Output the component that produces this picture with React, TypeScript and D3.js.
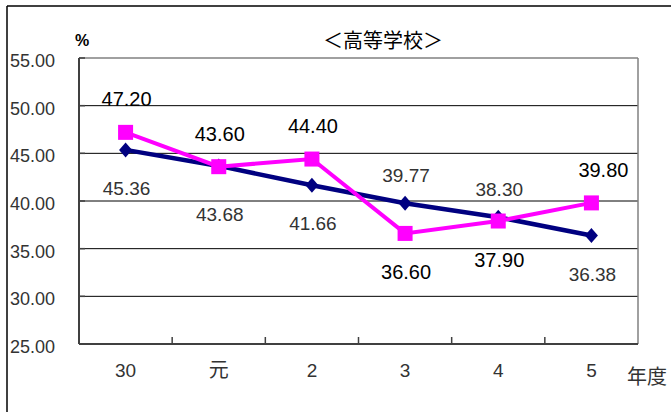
import * as d3 from "d3";

const categories = ["30", "元", "2", "3", "4", "5"];
const navyValues = [45.36, 43.68, 41.66, 39.77, 38.3, 36.38];
const pinkValues = [47.2, 43.6, 44.4, 36.6, 37.9, 39.8];
// label placement: true = above the point
const navyAbove = [false, false, false, true, true, false];
const pinkAbove = [true, true, true, false, false, true];
const yTicks = [25, 30, 35, 40, 45, 50, 55];

const W = 671;
const H = 412;
const left = 79;
const right = 638;
const top = 58;
const bottom = 344;
const font = "'Liberation Sans', Arial, sans-serif";
const jpFont = "'Noto Sans CJK JP', sans-serif";

export default function App() {
  const x = d3.scaleBand<string>().domain(categories).range([left, right]).padding(0);
  const cx = (c: string) => (x(c) ?? 0) + x.bandwidth() / 2;
  const y = d3.scaleLinear().domain([25, 55]).range([bottom, top]);

  const line = d3
    .line<number>()
    .x((_, i) => cx(categories[i]))
    .y((d) => y(d));

  return (
    <svg
      width={W}
      height={H}
      style={{ position: "absolute", left: 0, top: 0, background: "#fff" }}
    >
      {/* outer frame */}
      <line x1={7} y1={6} x2={W} y2={6} stroke="#000" strokeWidth={1.5} />
      <line x1={7} y1={6} x2={7} y2={H} stroke="#000" strokeWidth={1.5} />

      {/* title */}
      <text x={383} y={48} textAnchor="middle" fontFamily={jpFont} fontSize={20} fill="#000">
        ＜高等学校＞
      </text>
      <text x={82} y={46} textAnchor="middle" fontFamily={font} fontSize={16} fontWeight="bold" fill="#000">
        %
      </text>

      {/* gridlines */}
      {yTicks.slice(1, -1).map((t) => (
        <line key={t} x1={left} x2={right} y1={y(t)} y2={y(t)} stroke="#000" strokeWidth={1} />
      ))}
      {/* plot border top/right */}
      <line x1={left} x2={right} y1={top} y2={top} stroke="#808080" strokeWidth={1.5} />
      <line x1={right} x2={right} y1={top} y2={bottom} stroke="#808080" strokeWidth={1.5} />
      {/* axes */}
      <line x1={left} x2={left} y1={top} y2={bottom} stroke="#404040" strokeWidth={2} />
      <line x1={left} x2={right} y1={bottom} y2={bottom} stroke="#404040" strokeWidth={2} />
      {yTicks.map((t) => (
        <line key={t} x1={left} x2={left + 6} y1={y(t)} y2={y(t)} stroke="#404040" strokeWidth={1.5} />
      ))}
      {categories.slice(1).map((c) => (
        <line key={c} x1={x(c)} x2={x(c)} y1={bottom} y2={bottom - 7} stroke="#404040" strokeWidth={1.5} />
      ))}

      {/* y tick labels */}
      {yTicks.map((t) => (
        <text
          key={t}
          x={55}
          y={y(t) + 9}
          textAnchor="end"
          fontFamily={font}
          fontSize={18}
          fill="#333"
        >
          {t.toFixed(2)}
        </text>
      ))}

      {/* x labels */}
      {categories.map((c) => (
        <text
          key={c}
          x={cx(c)}
          y={377}
          textAnchor="middle"
          fontFamily={c === "元" ? jpFont : font}
          fontSize={c === "元" ? 20 : 19}
          fill="#333"
        >
          {c}
        </text>
      ))}
      <text x={647} y={384} textAnchor="middle" fontFamily={jpFont} fontSize={20} fill="#333">
        年度
      </text>

      {/* navy series */}
      <path d={line(navyValues) ?? ""} fill="none" stroke="#000080" strokeWidth={4.5} />
      {navyValues.map((v, i) => {
        const px = cx(categories[i]);
        const py = y(v);
        return (
          <path
            key={i}
            d={`M${px},${py - 7.5}L${px + 6.5},${py}L${px},${py + 7.5}L${px - 6.5},${py}Z`}
            fill="#000080"
          />
        );
      })}

      {/* pink series */}
      <path d={line(pinkValues) ?? ""} fill="none" stroke="#FF00FF" strokeWidth={4} />
      {pinkValues.map((v, i) => {
        const px = cx(categories[i]);
        const py = y(v);
        return <rect key={i} x={px - 7.5} y={py - 7.5} width={15} height={15} fill="#FF00FF" />;
      })}

      {/* navy labels */}
      {navyValues.map((v, i) => (
        <text
          key={i}
          x={cx(categories[i]) + 1}
          y={y(v) + (navyAbove[i] ? -28 : i === 1 ? 48 : 38) + 7}
          textAnchor="middle"
          fontFamily={font}
          fontSize={19}
          fill="#333"
        >
          {v.toFixed(2)}
        </text>
      ))}

      {/* pink labels */}
      {pinkValues.map((v, i) => (
        <text
          key={i}
          x={cx(categories[i]) + (i === 5 ? 12 : 1)}
          y={y(v) + (pinkAbove[i] ? -33 : 39) + 7}
          textAnchor="middle"
          fontFamily={font}
          fontSize={20}
          fill="#000"
        >
          {v.toFixed(2)}
        </text>
      ))}
    </svg>
  );
}
